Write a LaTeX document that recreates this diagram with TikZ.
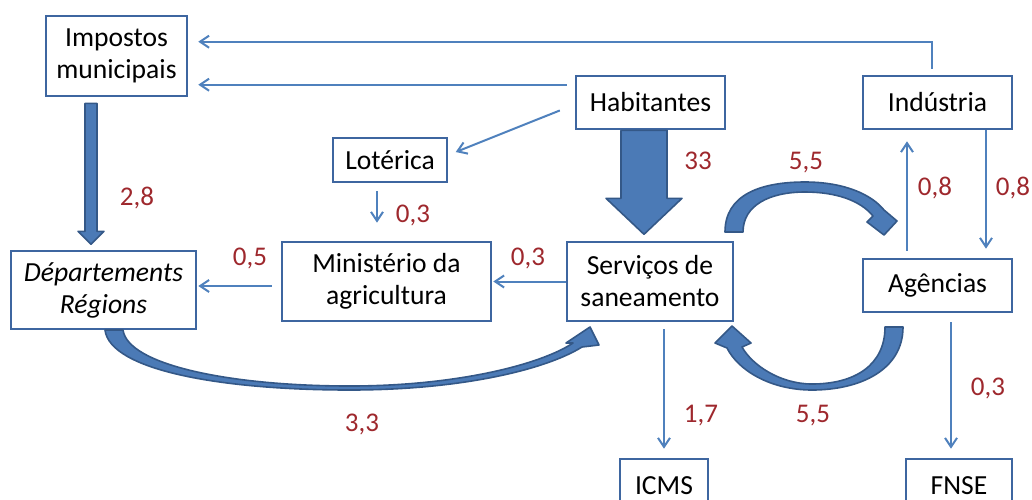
\documentclass[tikz,border=0pt]{standalone}
\usepackage{fontspec}
\setmainfont{Carlito}
\usetikzlibrary{arrows.meta}

\definecolor{boxblue}{RGB}{62,102,160}
\definecolor{lineblue}{RGB}{79,129,189}
\definecolor{arrowfill}{RGB}{75,122,182}
\definecolor{arrowedge}{RGB}{52,88,135}
\definecolor{valred}{RGB}{158,40,45}

\begin{document}
\begin{tikzpicture}[x=0.5pt, y=-0.5pt,
    box/.style={draw=boxblue, line width=1.3pt, fill=white, align=center, inner sep=0pt, font=\fontsize{13.8}{16}\selectfont},
    flow/.style={draw=lineblue, line width=1pt, -{Straight Barb[length=4.5pt,width=6pt]}},
    val/.style={text=valred, anchor=base, font=\fontsize{13.5}{16}\selectfont},
    bigflow/.style={fill=arrowfill, draw=arrowedge, line width=0.8pt, line join=round}]
    \useasboundingbox (0,0) rectangle (1032,499);
    \clip (0,0) rectangle (1032,499);

    % Boxes
    \node[box, minimum width=70.5pt, minimum height=40pt] (imp) at (116.5,56) {Impostos\\municipais};
    \node[box, minimum width=57pt, minimum height=22pt] (lot) at (390,160) {Lotérica};
    \node[box, minimum width=74.5pt, minimum height=26.5pt] (hab) at (650.5,102.5) {Habitantes};
    \node[box, minimum width=74.5pt, minimum height=26.5pt] (ind) at (937.5,102.5) {Indústria};
    \node[box, minimum width=92.5pt, minimum height=39pt, font=\fontsize{13.8}{16}\selectfont\itshape] (dep) at (103.5,290) {Départements\\Régions};
    \node[box, minimum width=104.5pt, minimum height=39.5pt] (min) at (386.5,281.5) {Ministério da\\agricultura};
    \node[box, minimum width=83pt, minimum height=39.5pt] (serv) at (650,281.5) {Serviços de\\saneamento};
    \node[box, minimum width=74.5pt, minimum height=26.5pt] (ag) at (937.5,285.5) {Agências};
    \node[box, minimum width=44pt, minimum height=26.5pt] (icms) at (664,485.5) {ICMS};
    \node[box, minimum width=53pt, minimum height=26.5pt] (fnse) at (959,485.5) {FNSE};

    % Thin flows
    \draw[flow, shorten <=3pt, shorten >=5pt] ([xshift=-3pt]ind.north) |- ([yshift=-13.5pt]imp.north east);
    \draw[flow, shorten <=4pt, shorten >=5pt] ([yshift=-5pt]hab.north west) -- ([yshift=-5pt]hab.north west -| imp.east);
    \draw[flow, shorten <=8pt, shorten >=4pt] ([yshift=-1pt]hab.west) -- ([yshift=2.5pt]lot.east);
    \draw[flow, shorten <=4pt, shorten >=9pt] ([xshift=-6.5pt]lot.south) -- ([xshift=-6.5pt]lot.south |- min.north);
    \draw[flow, shorten <=4.5pt, shorten >=0.5pt] ([yshift=-2.25pt]min.west) -- ([yshift=-2.25pt]min.west -| dep.east);
    \draw[flow, shorten >=0.5pt] (serv.west) -- (serv.west -| min.east);
    \draw[flow, shorten <=3.5pt, shorten >=4.5pt] (serv.south -| icms.north) -- (icms.north);
    \draw[flow, shorten <=4.5pt, shorten >=4.5pt] ([xshift=-4pt]fnse.north |- ag.south) -- ([xshift=-4pt]fnse.north);
    \draw[flow, shorten <=3.5pt, shorten >=5.5pt] ([xshift=-15.25pt]ag.north) -- ([xshift=-15.25pt]ind.south);
    \draw[flow, shorten >=4.5pt] ([xshift=24.25pt]ind.south) -- ([xshift=24.25pt]ag.north);

    % Thick flows
    \draw[bigflow] ([xshift=-14.75pt]hab.south) -- ++(0,68) -- ++(-15,0) -- ++(38,36) -- ++(38,-36) -- ++(-15,0) -- ++(0,-68) -- cycle;
    \draw[bigflow] ([shift={(-31.5,6)}]imp.south) -- ++(0,128) -- ++(-7,0) -- ++(13,13) -- ++(13,-13) -- ++(-7,0) -- ++(0,-128) -- cycle;

    % Curved flows
    \draw[bigflow] (725,232) .. controls (725,195) and (760,182) .. (805,182)
      .. controls (845,182) and (872,195) .. (884,210) -- (897,221) -- (884,235) -- (867,222) -- (873,216)
      .. controls (860,200) and (835,192) .. (805,192) .. controls (770,192) and (743,205) .. (743,232) -- cycle;
    \draw[bigflow] (903,327) .. controls (903,370) and (860,390) .. (812,390)
      .. controls (770,390) and (738,370) .. (727,348) -- (715,343) -- (732,326) -- (751,343) -- (742,347)
      .. controls (752,365) and (780,384) .. (812,384) .. controls (855,384) and (885,365) .. (885,327) -- cycle;
    \draw[bigflow] (105,330) .. controls (110,370) and (220,390) .. (350,390)
      .. controls (460,390) and (545,370) .. (582,347) -- (599,345) -- (590,327) -- (566,343) -- (573,343)
      .. controls (540,365) and (455,386) .. (350,386) .. controls (230,386) and (128,365) .. (123,330) -- cycle;

    % Values
    \node[val] (v28) at (137,205) {2,8};
    \node[val] (v03a) at (413,222) {0,3};
    \node[val] (v33) at (698,169) {33};
    \node[val] (v55a) at (806,169) {5,5};
    \node[val] (v08a) at (935,195) {0,8};
    \node[val] (v08b) at (1013,195) {0,8};
    \node[val] (v05) at (250,265) {0,5};
    \node[val] (v03b) at (528,265) {0,3};
    \node[val] (v33b) at (362,431) {3,3};
    \node[val] (v17) at (701,422) {1,7};
    \node[val] (v55b) at (813,422) {5,5};
    \node[val] (v03c) at (988,395) {0,3};
\end{tikzpicture}
\end{document}
